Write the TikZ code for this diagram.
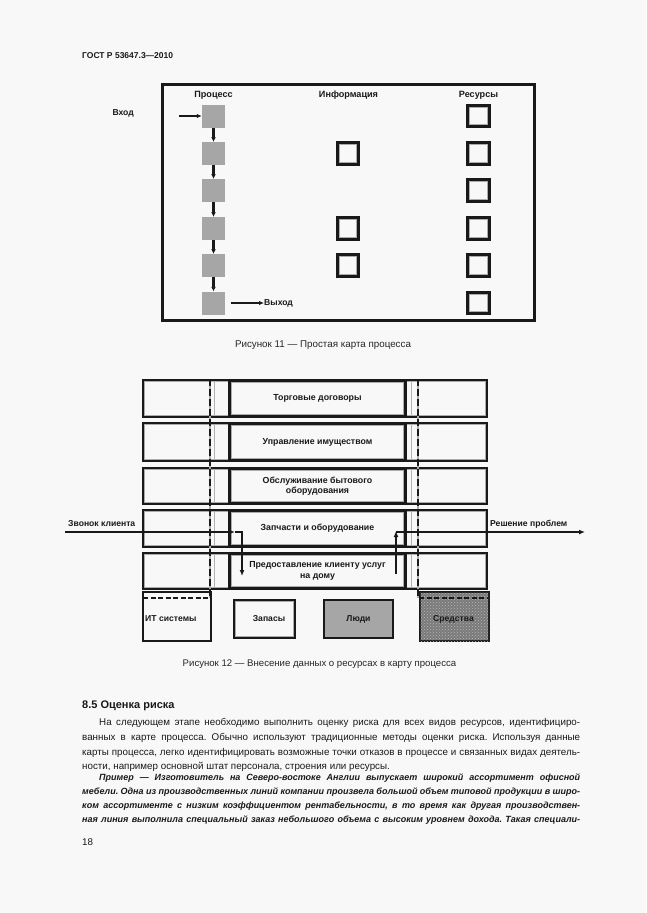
\documentclass[tikz,border=0pt]{standalone}
\usepackage{fontspec}
\setmainfont{Liberation Sans}
\usetikzlibrary{arrows.meta,patterns}
\frenchspacing
\definecolor{pagebg}{RGB}{248,248,248}
\definecolor{boxgray}{RGB}{166,166,166}
\definecolor{ink}{RGB}{25,25,25}
\newcommand\fsz[1]{\fontsize{#1}{#1}\selectfont}
\tikzset{
  txt/.style={inner sep=0pt, text=ink},
  hdrlbl/.style={txt, font=\bfseries\fsz{9.1}},
  lbl/.style={txt, font=\bfseries\fsz{8.6}},
  procbox/.style={fill=boxgray, minimum size=23pt, inner sep=0pt},
  inset/.style={path picture={\draw[gray!65, line width=1.1pt]
      ([shift={(#1,#1)}]path picture bounding box.south west) rectangle
      ([shift={(-#1,-#1)}]path picture bounding box.north east);}},
  resbox/.style={draw=ink, line width=2.6pt, minimum size=21.5pt, inner sep=0pt, inset=1.9pt},
  flow/.style={draw=ink, line width=2.2pt, -{Latex[length=4.5pt,width=5pt]}},
  thinarr/.style={draw=ink, line width=1.4pt, -{Latex[length=5pt,width=4.5pt]}},
  rowbox/.style={draw=ink, line width=2.4pt, minimum width=344pt, inner sep=0pt, inset=1.8pt},
  centbox/.style={draw=ink, line width=3pt, fill=pagebg, minimum width=176pt, inner sep=0pt,
      inset=2.2pt, align=center, font=\bfseries\fsz{8.8}, text=ink},
  bigarr/.style={draw=ink, line width=2pt, -{Latex[length=6pt,width=5pt]}},
  bodyline/.style={inner sep=0pt, anchor=base west, font=\fsz{9.8}, text=black!90},
  exline/.style={inner sep=0pt, anchor=base west, font=\bfseries\itshape\fsz{9.0}, text=black!90},
  capt/.style={inner sep=0pt, anchor=base, font=\fsz{9.8}, text=black!85},
}
\begin{document}
\begin{tikzpicture}[x=1pt,y=-1pt]
\fill[pagebg] (0,0) rectangle (646,913);
\useasboundingbox (0,0) rectangle (646,913);

% page header
\node[txt, anchor=base west, font=\bfseries\fsz{8.5}] (hdr) at (82,58) {ГОСТ Р 53647.3—2010};

% ---------------- Figure 11 ----------------
\node[draw=ink, line width=3pt, minimum width=372pt, minimum height=236pt, inner sep=0pt] (frame11) at (348.5,202.5) {};
\node[hdrlbl] (hproc) at (213.5,95) {Процесс};
\node[hdrlbl] (hinfo) at (348.5,95) {Информация};
\node[hdrlbl] (hres) at (478.5,95) {Ресурсы};

\foreach \i/\y in {1/116,2/153.5,3/190.5,4/228.5,5/265.5,6/303}{
  \node[procbox] (p\i) at (213.5,\y) {};
  \node[resbox] (r\i) at (478.5,\y) {};
}
\foreach \i/\y in {2/153.5,4/228.5,5/265.5}{
  \node[resbox] (inf\i) at (348,\y) {};
}
\foreach \a/\b in {1/2,2/3,3/4,4/5,5/6}{
  \draw[flow] (p\a.south) -- (p\b.north);
}
\node[lbl, anchor=east] (vhod) at (134,113) {Вход};
\coordinate (inS) at (179,116);
\draw[thinarr] (inS) -- (p1.west);
\node[lbl, anchor=west] (vyhod) at (264,303) {Выход};
\coordinate (outS) at (231,303);
\draw[thinarr] (outS) -- (vyhod.west);

\node[capt] (cap11) at (323,347.5) {Рисунок 11 — Простая карта процесса};

% ---------------- Figure 12 ----------------
\foreach \i/\y/\h in {1/398.5/37,2/442/38,3/486/36,4/528.5/37,5/571/36}{
  \node[rowbox, minimum height=\h pt] (row\i) at (315,\y) {};
}
% dashed column dividers
\coordinate (dlT) at (210,379); \coordinate (dlB) at (210,598);
\coordinate (drT) at (418,379); \coordinate (drB) at (418,598);
\draw[gray!65, line width=2.2pt] (dlT) -- (dlB);
\draw[ink, line width=2.6pt, dash pattern=on 7pt off 3pt] (dlT) -- (dlB);
\draw[gray!65, line width=2.2pt] (drT) -- (drB);
\draw[ink, line width=2.6pt, dash pattern=on 7pt off 3pt] (drT) -- (drB);
% thin inner lines of narrow columns
\foreach \x in {214,411}{
  \foreach \t/\b in {381/416,424/460,469/503,511/546,554/588}{
    \draw[gray!60, line width=0.9pt] (\x,\t) -- (\x,\b);
  }
}

\node[centbox, minimum height=36pt] (c1) at (317.5,398.5) {Торговые договоры};
\node[centbox, minimum height=37pt] (c2) at (317.5,442) {Управление имуществом};
\node[centbox, minimum height=35pt] (c3) at (317.5,486) {Обслуживание бытового\\[1.6pt]оборудования};
\node[centbox, minimum height=36pt] (c4) at (317.5,528.5) {Запчасти и оборудование};
\node[centbox, minimum height=35pt] (c5) at (317.5,571) {Предоставление клиенту услуг\\[1.6pt]на дому};

% bottom resource row
\node[draw=ink, line width=2pt, minimum width=68pt, minimum height=49pt, inner sep=0pt, anchor=north west] (it) at (142,591) {};
\node[txt, font=\bfseries\fsz{8.6}, anchor=west] (ittxt) at (145,619) {ИТ системы};
\node[draw=ink, line width=2pt, minimum width=61pt, minimum height=38pt, inner sep=0pt, inset=1.6pt] (zap) at (264.5,619) {};
\node[txt, font=\bfseries\fsz{8.6}] (zaptxt) at (269,619) {Запасы};
\node[draw=ink, line width=2pt, fill=boxgray, minimum width=69pt, minimum height=38pt, inner sep=0pt] (ludi) at (358.5,619) {};
\node[txt, font=\bfseries\fsz{8.6}] (luditxt) at (358.5,619) {Люди};
\node[draw=ink, line width=2pt, fill=black!52, postaction={pattern=crosshatch dots, pattern color=black!28},
      minimum width=69pt, minimum height=49pt, inner sep=0pt, anchor=north west] (sred) at (419,591) {};
\node[txt, font=\bfseries\fsz{8.6}] (sredtxt) at (453.5,619) {Средства};
\coordinate (itdL) at (143,598); \coordinate (itdR) at (210,598);
\coordinate (srdL) at (419,598); \coordinate (srdR) at (488,598);
\draw[ink, line width=1.8pt, dash pattern=on 5pt off 2.5pt] (itdL) -- (itdR);
\draw[ink, line width=1.8pt, dash pattern=on 5pt off 2.5pt] (srdL) -- (srdR);

% process flow
\node[lbl, anchor=west] (zvonok) at (68,524) {Звонок клиента};
\node[lbl, anchor=west] (reshenie) at (490,524) {Решение проблем};
\coordinate (a0) at (65,532);
\coordinate (a1) at (235,532);
\coordinate (a2) at (242,576);
\coordinate (b0) at (396,574);
\coordinate (b1) at (396,531);
\coordinate (b2) at (585,532);
\draw[bigarr] (a0) -- (a1);
\draw[bigarr] (a1) -| (a2);
\draw[bigarr] (b0) -- (b1);
\draw[bigarr] (396,532) -- (b2);

\node[capt, font=\fsz{9.6}] (cap12) at (319.5,666.5) {Рисунок 12 — Внесение данных о ресурсах в карту процесса};

% ---------------- text ----------------
\node[inner sep=0pt, anchor=base west, font=\bfseries\fsz{11}, text=black!90] (sec) at (82,708) {8.5 Оценка риска};

\node[bodyline] (l1) at (99,725.5) {\makebox[481pt][s]{На следующем этапе необходимо выполнить оценку риска для всех видов ресурсов, идентифициро-}};
\node[bodyline] (l2) at (82,740.5) {\makebox[498pt][s]{ванных в карте процесса. Обычно используют традиционные методы оценки риска. Используя данные}};
\node[bodyline] (l3) at (82,755.5) {\makebox[498pt][s]{карты процесса, легко идентифицировать возможные точки отказов в процессе и связанных видах деятель-}};
\node[bodyline] (l4) at (82,769.5) {ности, например основной штат персонала, строения или ресурсы.};

\node[exline] (e1) at (99,780.5) {\makebox[481pt][s]{Пример — Изготовитель на Северо-востоке Англии выпускает широкий ассортимент офисной}};
\node[exline] (e2) at (82,794.5) {\makebox[498pt][s]{мебели. Одна из производственных линий компании произвела большой объем типовой продукции в широ-}};
\node[exline] (e3) at (82,808.5) {\makebox[498pt][s]{ком ассортименте с низким коэффициентом рентабельности, в то время как другая производствен-}};
\node[exline] (e4) at (82,822.5) {\makebox[498pt][s]{ная линия выполнила специальный заказ небольшого объема с высоким уровнем дохода. Такая специали-}};

\node[inner sep=0pt, anchor=base west, font=\fsz{9.8}, text=black!90] (pg) at (82,845.5) {18};
\end{tikzpicture}
\end{document}
